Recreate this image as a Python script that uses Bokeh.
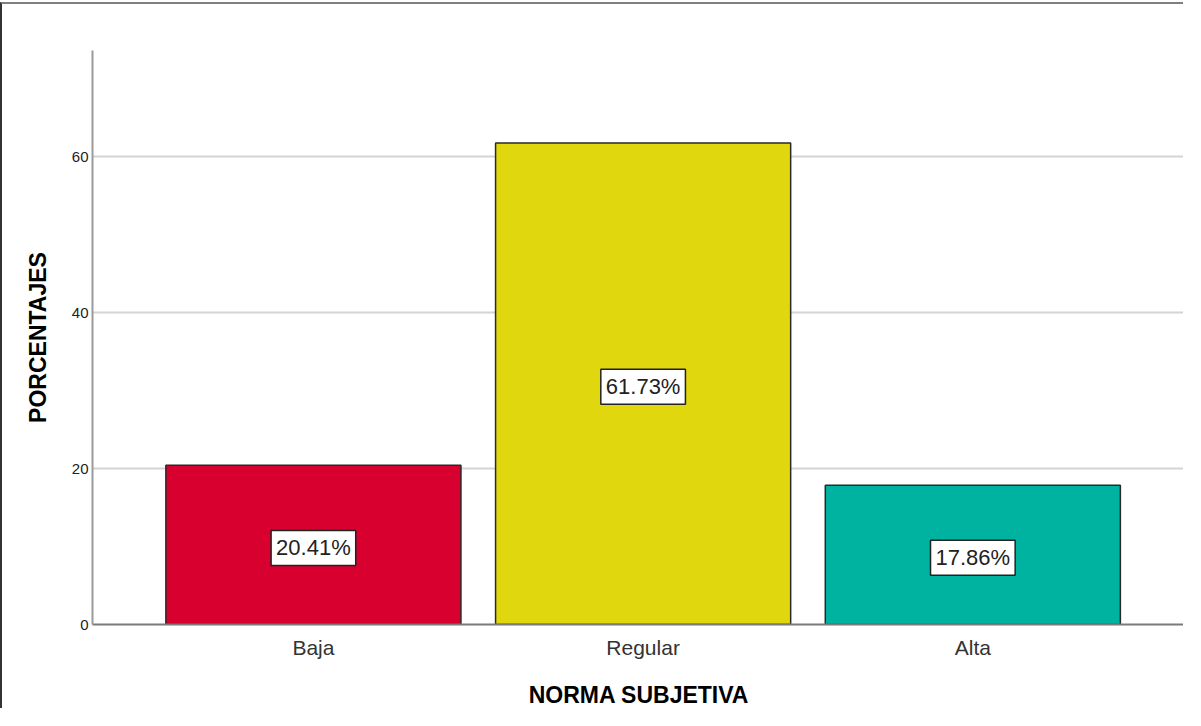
from bokeh.plotting import figure
from bokeh.models import ColumnDataSource, Label, FixedTicker, Range1d
from bokeh.embed import file_html
from bokeh.resources import INLINE

categories = ["Baja", "Regular", "Alta"]
percentages = [20.41, 61.73, 17.86]
bar_colors = ["#D7002F", "#E1D70E", "#00B2A0"]
y_ticks = [0, 20, 40, 60]

positions = list(range(1, len(categories) + 1))
source = ColumnDataSource(dict(x=positions, top=percentages, color=bar_colors))

p = figure(
    width=1183, height=706,
    output_backend="svg", toolbar_location=None,
    x_range=Range1d(0.33, 3.645), y_range=Range1d(0, 73.6),
    min_border_left=90, min_border_top=46, min_border_right=0, min_border_bottom=83,
)
p.styles = {"border-top": "2px solid #7f7f7f", "border-left": "2px solid #333333",
            "margin-top": "2px"}
p.outline_line_color = None
p.background_fill_color = "white"

p.vbar(x="x", top="top", width=0.895, bottom=0, source=source,
       fill_color="color", line_color="#2a2a2a", line_width=1.5)

for xi, v in zip(positions, percentages):
    p.add_layout(Label(
        x=xi, y=v / 2, y_offset=-3, text=f"{v:.2f}%",
        text_align="center", text_baseline="middle",
        text_font="Liberation Sans", text_font_size="22px", text_color="#222222",
        background_fill_color="white", border_line_color="#222222", border_line_width=1.5,
        padding=5,
    ))

# x axis
p.xaxis.ticker = FixedTicker(ticks=positions)
p.xaxis.major_label_overrides = {xi: c for xi, c in zip(positions, categories)}
p.xaxis.major_label_text_font = "Liberation Sans"
p.xaxis.major_label_text_font_size = "21px"
p.xaxis.major_label_text_color = "#333333"
p.xaxis.major_label_standoff = 11
p.xaxis.axis_label = "NORMA SUBJETIVA"
p.xaxis.axis_label_text_font = "Liberation Sans"
p.xaxis.axis_label_text_font_style = "bold"
p.xaxis.axis_label_text_font_size = "23px"
p.xaxis.axis_label_text_color = "#000000"
p.xaxis.axis_label_standoff = 20
p.xaxis.axis_line_color = "#7a7a7a"
p.xaxis.axis_line_width = 2
p.xaxis.major_tick_line_color = None
p.xaxis.major_tick_out = 0
p.xaxis.major_tick_in = 0
p.xaxis.minor_tick_line_color = None
p.xgrid.grid_line_color = None

# y axis
p.yaxis.ticker = FixedTicker(ticks=y_ticks)
p.yaxis.major_label_text_font = "Liberation Sans"
p.yaxis.major_label_text_font_size = "15px"
p.yaxis.major_label_text_color = "#222222"
p.yaxis.major_label_standoff = 4
p.yaxis.axis_label = "PORCENTAJES"
p.yaxis.axis_label_text_font = "Liberation Sans"
p.yaxis.axis_label_text_font_style = "bold"
p.yaxis.axis_label_text_font_size = "23px"
p.yaxis.axis_label_text_color = "#000000"
p.yaxis.axis_label_standoff = 18
p.yaxis.axis_line_color = "#9a9a9a"
p.yaxis.axis_line_width = 2
p.yaxis.major_tick_line_color = None
p.yaxis.major_tick_out = 0
p.yaxis.major_tick_in = 0
p.yaxis.minor_tick_line_color = None
p.ygrid.grid_line_color = "#d4d4d4"
p.ygrid.grid_line_width = 2

open("out.html", "w").write(file_html(p, INLINE))
